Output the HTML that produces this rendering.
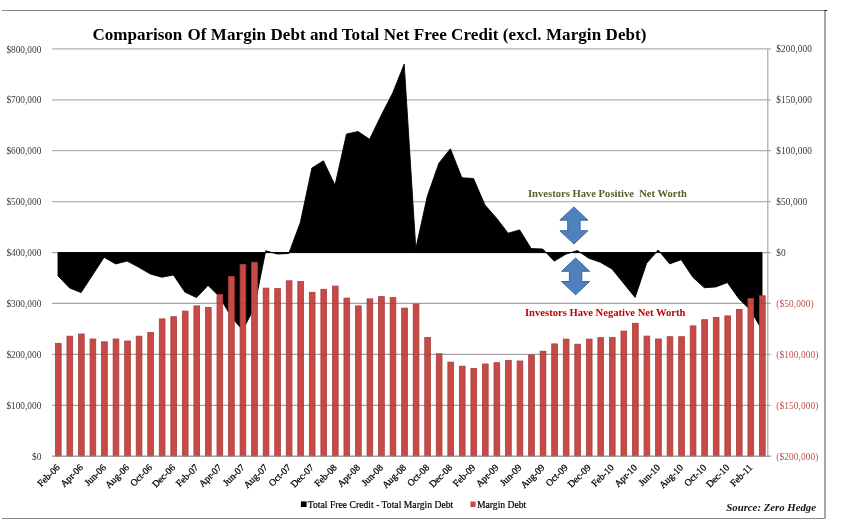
<!DOCTYPE html>
<html lang="en"><head><meta charset="utf-8"><title>Comparison Of Margin Debt and Total Net Free Credit</title>
<style>
html,body{margin:0;padding:0;background:#fff;}
body{width:841px;height:526px;position:relative;overflow:hidden;font-family:"Liberation Serif",serif;}
svg text{font-family:"Liberation Serif",serif;}
.ax{font-size:9.3px;}
.xl{font-size:9.6px;fill:#000;stroke:#000;stroke-width:0.25px;}
.title{font-size:17px;font-weight:bold;fill:#000;}
.ann{font-size:10.6px;font-weight:bold;}
.lg{font-size:9.65px;fill:#000;stroke:#000;stroke-width:0.2px;}
.src{font-size:10.8px;font-weight:bold;font-style:italic;fill:#111;}
</style></head><body>
<svg width="841" height="526" viewBox="0 0 841 526" style="position:absolute;left:0;top:0">
<rect width="841" height="526" fill="#fff"/>
<line x1="1.8" y1="10.5" x2="825" y2="10.5" stroke="#8a8a8a" stroke-width="1"/>
<line x1="1.8" y1="518.5" x2="825" y2="518.5" stroke="#8a8a8a" stroke-width="1"/>
<line x1="825" y1="10" x2="825" y2="518.5" stroke="#8a8a8a" stroke-width="1.5"/>
<rect x="824.6" y="10" width="2.4" height="1" fill="#111"/>
<line x1="52.2" y1="48.90" x2="771.0" y2="48.90" stroke="#b2b2b2" stroke-width="1.3"/>
<line x1="52.2" y1="99.81" x2="771.0" y2="99.81" stroke="#b2b2b2" stroke-width="1.3"/>
<line x1="52.2" y1="150.72" x2="771.0" y2="150.72" stroke="#b2b2b2" stroke-width="1.3"/>
<line x1="52.2" y1="201.64" x2="771.0" y2="201.64" stroke="#b2b2b2" stroke-width="1.3"/>
<line x1="52.2" y1="252.55" x2="771.0" y2="252.55" stroke="#b2b2b2" stroke-width="1.3"/>
<line x1="52.2" y1="303.46" x2="771.0" y2="303.46" stroke="#b2b2b2" stroke-width="1.3"/>
<line x1="52.2" y1="354.38" x2="771.0" y2="354.38" stroke="#b2b2b2" stroke-width="1.3"/>
<line x1="52.2" y1="405.29" x2="771.0" y2="405.29" stroke="#b2b2b2" stroke-width="1.3"/>
<line x1="52.2" y1="456.20" x2="771.0" y2="456.20" stroke="#b2b2b2" stroke-width="1.3"/>
<line x1="767.8" y1="48.9" x2="767.8" y2="456.2" stroke="#a8a8a8" stroke-width="1.2"/>
<polygon points="58.0,252.5 58.0,275.9 69.5,287.9 81.1,292.6 92.6,275.0 104.1,257.3 115.7,263.9 127.2,261.1 138.8,267.3 150.3,274.0 161.8,277.2 173.4,275.0 184.9,292.1 196.5,297.6 208.0,285.4 219.6,296.8 231.1,316.8 242.6,330.1 254.2,308.3 265.7,250.8 277.3,254.0 288.8,253.5 300.4,222.3 311.9,168.1 323.4,160.8 335.0,185.2 346.5,134.0 358.1,131.5 369.6,139.3 381.1,115.5 392.7,93.0 404.2,64.1 415.8,248.6 427.3,196.3 438.9,163.2 450.4,148.8 461.9,177.8 473.5,178.5 485.0,205.1 496.6,218.2 508.1,233.2 519.6,229.9 531.2,248.6 542.7,249.0 554.3,261.1 565.8,254.2 577.4,250.6 588.9,258.3 600.4,262.3 612.0,269.0 623.5,283.2 635.1,297.4 646.6,263.3 658.2,250.0 669.7,263.9 681.2,259.7 692.8,277.2 704.3,287.7 715.9,286.9 727.4,282.6 738.9,298.8 750.5,310.0 762.0,330.0 762.0,252.5" fill="#000" stroke="#000" stroke-width="0.9" stroke-linejoin="miter"/>
<rect x="55.42" y="343.3" width="5.7" height="112.9" fill="#c84a46" stroke="#a63f3c" stroke-width="0.8"/>
<rect x="66.96" y="336.2" width="5.7" height="120.0" fill="#c84a46" stroke="#a63f3c" stroke-width="0.8"/>
<rect x="78.50" y="334.0" width="5.7" height="122.2" fill="#c84a46" stroke="#a63f3c" stroke-width="0.8"/>
<rect x="90.05" y="339.0" width="5.7" height="117.2" fill="#c84a46" stroke="#a63f3c" stroke-width="0.8"/>
<rect x="101.59" y="341.8" width="5.7" height="114.4" fill="#c84a46" stroke="#a63f3c" stroke-width="0.8"/>
<rect x="113.13" y="339.0" width="5.7" height="117.2" fill="#c84a46" stroke="#a63f3c" stroke-width="0.8"/>
<rect x="124.67" y="341.0" width="5.7" height="115.2" fill="#c84a46" stroke="#a63f3c" stroke-width="0.8"/>
<rect x="136.21" y="336.2" width="5.7" height="120.0" fill="#c84a46" stroke="#a63f3c" stroke-width="0.8"/>
<rect x="147.76" y="332.5" width="5.7" height="123.7" fill="#c84a46" stroke="#a63f3c" stroke-width="0.8"/>
<rect x="159.30" y="318.9" width="5.7" height="137.3" fill="#c84a46" stroke="#a63f3c" stroke-width="0.8"/>
<rect x="170.84" y="316.7" width="5.7" height="139.5" fill="#c84a46" stroke="#a63f3c" stroke-width="0.8"/>
<rect x="182.38" y="311.1" width="5.7" height="145.1" fill="#c84a46" stroke="#a63f3c" stroke-width="0.8"/>
<rect x="193.92" y="305.9" width="5.7" height="150.3" fill="#c84a46" stroke="#a63f3c" stroke-width="0.8"/>
<rect x="205.47" y="307.4" width="5.7" height="148.8" fill="#c84a46" stroke="#a63f3c" stroke-width="0.8"/>
<rect x="217.01" y="294.6" width="5.7" height="161.6" fill="#c84a46" stroke="#a63f3c" stroke-width="0.8"/>
<rect x="228.55" y="276.5" width="5.7" height="179.7" fill="#c84a46" stroke="#a63f3c" stroke-width="0.8"/>
<rect x="240.09" y="264.5" width="5.7" height="191.7" fill="#c84a46" stroke="#a63f3c" stroke-width="0.8"/>
<rect x="251.63" y="262.2" width="5.7" height="194.0" fill="#c84a46" stroke="#a63f3c" stroke-width="0.8"/>
<rect x="263.18" y="288.1" width="5.7" height="168.1" fill="#c84a46" stroke="#a63f3c" stroke-width="0.8"/>
<rect x="274.72" y="288.6" width="5.7" height="167.6" fill="#c84a46" stroke="#a63f3c" stroke-width="0.8"/>
<rect x="286.26" y="280.8" width="5.7" height="175.4" fill="#c84a46" stroke="#a63f3c" stroke-width="0.8"/>
<rect x="297.80" y="281.5" width="5.7" height="174.7" fill="#c84a46" stroke="#a63f3c" stroke-width="0.8"/>
<rect x="309.34" y="292.3" width="5.7" height="163.9" fill="#c84a46" stroke="#a63f3c" stroke-width="0.8"/>
<rect x="320.89" y="289.3" width="5.7" height="166.9" fill="#c84a46" stroke="#a63f3c" stroke-width="0.8"/>
<rect x="332.43" y="286.1" width="5.7" height="170.1" fill="#c84a46" stroke="#a63f3c" stroke-width="0.8"/>
<rect x="343.97" y="298.1" width="5.7" height="158.1" fill="#c84a46" stroke="#a63f3c" stroke-width="0.8"/>
<rect x="355.51" y="305.9" width="5.7" height="150.3" fill="#c84a46" stroke="#a63f3c" stroke-width="0.8"/>
<rect x="367.05" y="298.9" width="5.7" height="157.3" fill="#c84a46" stroke="#a63f3c" stroke-width="0.8"/>
<rect x="378.60" y="296.6" width="5.7" height="159.6" fill="#c84a46" stroke="#a63f3c" stroke-width="0.8"/>
<rect x="390.14" y="297.6" width="5.7" height="158.6" fill="#c84a46" stroke="#a63f3c" stroke-width="0.8"/>
<rect x="401.68" y="308.1" width="5.7" height="148.1" fill="#c84a46" stroke="#a63f3c" stroke-width="0.8"/>
<rect x="413.22" y="304.1" width="5.7" height="152.1" fill="#c84a46" stroke="#a63f3c" stroke-width="0.8"/>
<rect x="424.76" y="337.5" width="5.7" height="118.7" fill="#c84a46" stroke="#a63f3c" stroke-width="0.8"/>
<rect x="436.30" y="353.8" width="5.7" height="102.4" fill="#c84a46" stroke="#a63f3c" stroke-width="0.8"/>
<rect x="447.85" y="362.1" width="5.7" height="94.1" fill="#c84a46" stroke="#a63f3c" stroke-width="0.8"/>
<rect x="459.39" y="366.2" width="5.7" height="90.0" fill="#c84a46" stroke="#a63f3c" stroke-width="0.8"/>
<rect x="470.93" y="368.5" width="5.7" height="87.7" fill="#c84a46" stroke="#a63f3c" stroke-width="0.8"/>
<rect x="482.47" y="364.0" width="5.7" height="92.2" fill="#c84a46" stroke="#a63f3c" stroke-width="0.8"/>
<rect x="494.01" y="362.7" width="5.7" height="93.5" fill="#c84a46" stroke="#a63f3c" stroke-width="0.8"/>
<rect x="505.56" y="360.5" width="5.7" height="95.7" fill="#c84a46" stroke="#a63f3c" stroke-width="0.8"/>
<rect x="517.10" y="361.0" width="5.7" height="95.2" fill="#c84a46" stroke="#a63f3c" stroke-width="0.8"/>
<rect x="528.64" y="354.9" width="5.7" height="101.3" fill="#c84a46" stroke="#a63f3c" stroke-width="0.8"/>
<rect x="540.18" y="351.2" width="5.7" height="105.0" fill="#c84a46" stroke="#a63f3c" stroke-width="0.8"/>
<rect x="551.72" y="343.9" width="5.7" height="112.3" fill="#c84a46" stroke="#a63f3c" stroke-width="0.8"/>
<rect x="563.27" y="339.1" width="5.7" height="117.1" fill="#c84a46" stroke="#a63f3c" stroke-width="0.8"/>
<rect x="574.81" y="344.2" width="5.7" height="112.0" fill="#c84a46" stroke="#a63f3c" stroke-width="0.8"/>
<rect x="586.35" y="339.1" width="5.7" height="117.1" fill="#c84a46" stroke="#a63f3c" stroke-width="0.8"/>
<rect x="597.89" y="337.6" width="5.7" height="118.6" fill="#c84a46" stroke="#a63f3c" stroke-width="0.8"/>
<rect x="609.43" y="337.6" width="5.7" height="118.6" fill="#c84a46" stroke="#a63f3c" stroke-width="0.8"/>
<rect x="620.98" y="331.1" width="5.7" height="125.1" fill="#c84a46" stroke="#a63f3c" stroke-width="0.8"/>
<rect x="632.52" y="323.3" width="5.7" height="132.9" fill="#c84a46" stroke="#a63f3c" stroke-width="0.8"/>
<rect x="644.06" y="336.1" width="5.7" height="120.1" fill="#c84a46" stroke="#a63f3c" stroke-width="0.8"/>
<rect x="655.60" y="339.0" width="5.7" height="117.2" fill="#c84a46" stroke="#a63f3c" stroke-width="0.8"/>
<rect x="667.14" y="336.7" width="5.7" height="119.5" fill="#c84a46" stroke="#a63f3c" stroke-width="0.8"/>
<rect x="678.69" y="336.7" width="5.7" height="119.5" fill="#c84a46" stroke="#a63f3c" stroke-width="0.8"/>
<rect x="690.23" y="325.9" width="5.7" height="130.3" fill="#c84a46" stroke="#a63f3c" stroke-width="0.8"/>
<rect x="701.77" y="319.7" width="5.7" height="136.5" fill="#c84a46" stroke="#a63f3c" stroke-width="0.8"/>
<rect x="713.31" y="317.4" width="5.7" height="138.8" fill="#c84a46" stroke="#a63f3c" stroke-width="0.8"/>
<rect x="724.85" y="315.9" width="5.7" height="140.3" fill="#c84a46" stroke="#a63f3c" stroke-width="0.8"/>
<rect x="736.40" y="309.4" width="5.7" height="146.8" fill="#c84a46" stroke="#a63f3c" stroke-width="0.8"/>
<rect x="747.94" y="298.6" width="5.7" height="157.6" fill="#c84a46" stroke="#a63f3c" stroke-width="0.8"/>
<rect x="759.48" y="295.8" width="5.7" height="160.4" fill="#c84a46" stroke="#a63f3c" stroke-width="0.8"/>
<line x1="52.2" y1="252.55" x2="767.8" y2="252.55" stroke="#000" stroke-opacity="0.08" stroke-width="1.2"/>
<line x1="52.2" y1="303.46" x2="767.8" y2="303.46" stroke="#000" stroke-opacity="0.08" stroke-width="1.2"/>
<line x1="52.2" y1="354.38" x2="767.8" y2="354.38" stroke="#000" stroke-opacity="0.08" stroke-width="1.2"/>
<line x1="52.2" y1="405.29" x2="767.8" y2="405.29" stroke="#000" stroke-opacity="0.08" stroke-width="1.2"/>
<line x1="52.2" y1="456.20" x2="771.0" y2="456.20" stroke="#9c9c9c" stroke-width="1.15"/>
<text x="41.3" y="52.5" text-anchor="end" class="ax" fill="#3a3a3a">$800,000</text>
<text x="41.3" y="103.4" text-anchor="end" class="ax" fill="#3a3a3a">$700,000</text>
<text x="41.3" y="154.3" text-anchor="end" class="ax" fill="#3a3a3a">$600,000</text>
<text x="41.3" y="205.2" text-anchor="end" class="ax" fill="#3a3a3a">$500,000</text>
<text x="41.3" y="256.2" text-anchor="end" class="ax" fill="#3a3a3a">$400,000</text>
<text x="41.3" y="307.1" text-anchor="end" class="ax" fill="#3a3a3a">$300,000</text>
<text x="41.3" y="358.0" text-anchor="end" class="ax" fill="#3a3a3a">$200,000</text>
<text x="41.3" y="408.9" text-anchor="end" class="ax" fill="#3a3a3a">$100,000</text>
<text x="41.3" y="459.8" text-anchor="end" class="ax" fill="#3a3a3a">$0</text>
<text x="776.3" y="52.4" class="ax" fill="#3a3a3a" letter-spacing="0.12">$200,000</text>
<text x="776.3" y="103.3" class="ax" fill="#3a3a3a" letter-spacing="0.12">$150,000</text>
<text x="776.3" y="154.2" class="ax" fill="#3a3a3a" letter-spacing="0.12">$100,000</text>
<text x="776.3" y="205.1" class="ax" fill="#3a3a3a" letter-spacing="0.12">$50,000</text>
<text x="776.3" y="256.1" class="ax" fill="#3a3a3a" letter-spacing="0.12">$0</text>
<text x="776.3" y="307.0" class="ax" fill="#c0504d" letter-spacing="0.12">($50,000)</text>
<text x="776.3" y="357.9" class="ax" fill="#c0504d" letter-spacing="0.12">($100,000)</text>
<text x="776.3" y="408.8" class="ax" fill="#c0504d" letter-spacing="0.12">($150,000)</text>
<text x="776.3" y="459.7" class="ax" fill="#c0504d" letter-spacing="0.12">($200,000)</text>
<text transform="translate(60.5,468.1) rotate(-45)" text-anchor="end" class="xl">Feb-06</text>
<text transform="translate(83.6,468.1) rotate(-45)" text-anchor="end" class="xl">Apr-06</text>
<text transform="translate(106.6,468.1) rotate(-45)" text-anchor="end" class="xl">Jun-06</text>
<text transform="translate(129.7,468.1) rotate(-45)" text-anchor="end" class="xl">Aug-06</text>
<text transform="translate(152.8,468.1) rotate(-45)" text-anchor="end" class="xl">Oct-06</text>
<text transform="translate(175.9,468.1) rotate(-45)" text-anchor="end" class="xl">Dec-06</text>
<text transform="translate(199.0,468.1) rotate(-45)" text-anchor="end" class="xl">Feb-07</text>
<text transform="translate(222.1,468.1) rotate(-45)" text-anchor="end" class="xl">Apr-07</text>
<text transform="translate(245.1,468.1) rotate(-45)" text-anchor="end" class="xl">Jun-07</text>
<text transform="translate(268.2,468.1) rotate(-45)" text-anchor="end" class="xl">Aug-07</text>
<text transform="translate(291.3,468.1) rotate(-45)" text-anchor="end" class="xl">Oct-07</text>
<text transform="translate(314.4,468.1) rotate(-45)" text-anchor="end" class="xl">Dec-07</text>
<text transform="translate(337.5,468.1) rotate(-45)" text-anchor="end" class="xl">Feb-08</text>
<text transform="translate(360.6,468.1) rotate(-45)" text-anchor="end" class="xl">Apr-08</text>
<text transform="translate(383.6,468.1) rotate(-45)" text-anchor="end" class="xl">Jun-08</text>
<text transform="translate(406.7,468.1) rotate(-45)" text-anchor="end" class="xl">Aug-08</text>
<text transform="translate(429.8,468.1) rotate(-45)" text-anchor="end" class="xl">Oct-08</text>
<text transform="translate(452.9,468.1) rotate(-45)" text-anchor="end" class="xl">Dec-08</text>
<text transform="translate(476.0,468.1) rotate(-45)" text-anchor="end" class="xl">Feb-09</text>
<text transform="translate(499.1,468.1) rotate(-45)" text-anchor="end" class="xl">Apr-09</text>
<text transform="translate(522.1,468.1) rotate(-45)" text-anchor="end" class="xl">Jun-09</text>
<text transform="translate(545.2,468.1) rotate(-45)" text-anchor="end" class="xl">Aug-09</text>
<text transform="translate(568.3,468.1) rotate(-45)" text-anchor="end" class="xl">Oct-09</text>
<text transform="translate(591.4,468.1) rotate(-45)" text-anchor="end" class="xl">Dec-09</text>
<text transform="translate(614.5,468.1) rotate(-45)" text-anchor="end" class="xl">Feb-10</text>
<text transform="translate(637.6,468.1) rotate(-45)" text-anchor="end" class="xl">Apr-10</text>
<text transform="translate(660.7,468.1) rotate(-45)" text-anchor="end" class="xl">Jun-10</text>
<text transform="translate(683.7,468.1) rotate(-45)" text-anchor="end" class="xl">Aug-10</text>
<text transform="translate(706.8,468.1) rotate(-45)" text-anchor="end" class="xl">Oct-10</text>
<text transform="translate(729.9,468.1) rotate(-45)" text-anchor="end" class="xl">Dec-10</text>
<text transform="translate(753.0,468.1) rotate(-45)" text-anchor="end" class="xl">Feb-11</text>
<text x="92.6" y="40" class="title">Comparison</text>
<text x="187.4" y="40" class="title" textLength="459.1" lengthAdjust="spacing">Of Margin Debt and Total Net Free Credit (excl. Margin Debt)</text>
<text x="528" y="197.1" class="ann" fill="#4f6228">Investors Have Positive&#160; Net Worth</text>
<text x="525" y="316.2" class="ann" fill="#c00000">Investors Have Negative Net Worth</text>
<polygon points="573.9,206.9 587.9,220.2 580.1,220.2 580.1,230.7 587.9,230.7 573.9,244.0 559.9,230.7 567.7,230.7 567.7,220.2 559.9,220.2" fill="#4f81bd" stroke="#3d66a0" stroke-width="1" stroke-linejoin="round"/>
<polygon points="575.6,258.0 589.6,271.3 581.8,271.3 581.8,281.5 589.6,281.5 575.6,294.8 561.6,281.5 569.4,281.5 569.4,271.3 561.6,271.3" fill="#4f81bd" stroke="#3d66a0" stroke-width="1" stroke-linejoin="round"/>
<rect x="300.9" y="501.4" width="5.7" height="5.6" fill="#000"/>
<text x="307.8" y="507.6" class="lg" textLength="145.4" lengthAdjust="spacing">Total Free Credit - Total Margin Debt</text>
<rect x="470.4" y="501.5" width="5.2" height="5.5" fill="#c0504d"/>
<text x="477" y="507.6" class="lg">Margin Debt</text>
<text x="726.3" y="511" class="src" textLength="89.7" lengthAdjust="spacingAndGlyphs">Source: Zero Hedge</text>
</svg>
</body></html>
